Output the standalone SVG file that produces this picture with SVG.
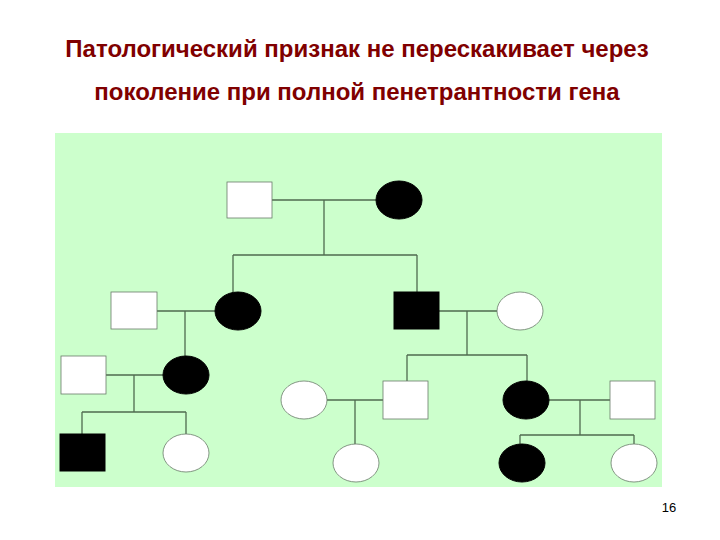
<svg xmlns="http://www.w3.org/2000/svg" width="720" height="540" viewBox="0 0 720 540">
<style>
.t{font-family:"Liberation Sans",Arial,sans-serif;font-weight:bold;font-size:24px;fill:#800000;text-anchor:middle}
.w{fill:#fff;stroke:#6a7a6a;stroke-width:0.8}
.b{fill:#000;stroke:#000;stroke-width:1}
.c line{stroke:#4f6a4f;stroke-width:1.3}
</style>
<rect width="720" height="540" fill="#fff"/>
<text class="t" x="357" y="57">Патологический признак не перескакивает через</text>
<text class="t" x="357" y="100">поколение при полной пенетрантности гена</text>
<rect x="55" y="133" width="607" height="354" fill="#ccffcc"/>
<g class="c">
<line x1="272" y1="200" x2="376" y2="200"/><line x1="324" y1="200" x2="324" y2="255"/>
<line x1="233" y1="255" x2="417" y2="255"/><line x1="233" y1="255" x2="233" y2="292"/><line x1="417" y1="255" x2="417" y2="292"/>
<line x1="157" y1="311" x2="215" y2="311"/><line x1="185" y1="311" x2="185" y2="356"/>
<line x1="106" y1="375" x2="163" y2="375"/><line x1="134" y1="375" x2="134" y2="412"/>
<line x1="82" y1="412" x2="186" y2="412"/><line x1="82" y1="412" x2="82" y2="434"/><line x1="186" y1="412" x2="186" y2="434"/>
<line x1="439" y1="311" x2="497" y2="311"/><line x1="467" y1="311" x2="467" y2="355"/>
<line x1="407" y1="355" x2="527" y2="355"/><line x1="407" y1="355" x2="407" y2="381"/><line x1="527" y1="355" x2="527" y2="381"/>
<line x1="327" y1="400" x2="383" y2="400"/><line x1="355" y1="400" x2="355" y2="444"/>
<line x1="549" y1="400" x2="610" y2="400"/><line x1="580" y1="400" x2="580" y2="435"/>
<line x1="520" y1="435" x2="634" y2="435"/><line x1="520" y1="435" x2="520" y2="444"/><line x1="634" y1="435" x2="634" y2="444"/>
</g>
<g id="n1"><rect class="w" x="227" y="182" width="45" height="36"/></g>
<g id="n2"><ellipse class="b" cx="399" cy="200" rx="23" ry="19"/></g>
<g id="n3"><rect class="w" x="111" y="292" width="46" height="37"/></g>
<g id="n4"><ellipse class="b" cx="238" cy="311" rx="23" ry="19"/></g>
<g id="n5"><rect class="b" x="394" y="292" width="45" height="37"/></g>
<g id="n6"><ellipse class="w" cx="520" cy="311" rx="23" ry="19"/></g>
<g id="n7"><rect class="w" x="61" y="356" width="45" height="38"/></g>
<g id="n8"><ellipse class="b" cx="186" cy="375" rx="23" ry="19"/></g>
<g id="n9"><ellipse class="w" cx="304" cy="400" rx="23" ry="19"/></g>
<g id="n10"><rect class="w" x="383" y="381" width="45" height="38"/></g>
<g id="n11"><ellipse class="b" cx="526" cy="400" rx="23" ry="19"/></g>
<g id="n12"><rect class="w" x="610" y="381" width="45" height="38"/></g>
<g id="n13"><rect class="b" x="60" y="434" width="45" height="37"/></g>
<g id="n14"><ellipse class="w" cx="186" cy="453" rx="23" ry="19"/></g>
<g id="n15"><ellipse class="w" cx="356" cy="463" rx="23" ry="19"/></g>
<g id="n16"><ellipse class="b" cx="522" cy="463" rx="23" ry="19"/></g>
<g id="n17"><ellipse class="w" cx="634" cy="463" rx="23" ry="19"/></g>
<text x="669" y="512" font-family="Liberation Sans,Arial,sans-serif" font-size="13" text-anchor="middle">16</text>
</svg>
